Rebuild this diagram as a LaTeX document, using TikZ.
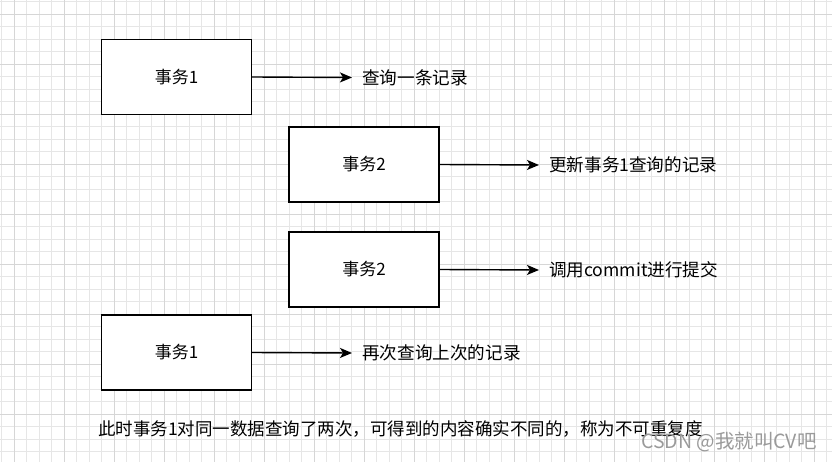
\documentclass[tikz,border=0pt]{standalone}
\usepackage{fontspec}
\newfontfamily\cjk{Noto Sans CJK SC}
\definecolor{gridline}{HTML}{E6E6E6}
\definecolor{gridmajor}{HTML}{D6D6D6}
\definecolor{mark}{HTML}{9A9A9A}
\usetikzlibrary{arrows.meta, positioning}

\begin{document}
\begin{tikzpicture}[
    x=1pt, y=-1pt,
    box/.style={draw, line width=1.4pt, fill=white, minimum width=150pt, minimum height=75pt, font=\cjk\fontsize{17}{20}\selectfont},
    arr/.style={-{Stealth[length=12pt, width=10pt, inset=3pt]}, line width=1.4pt},
    lbl/.style={anchor=west, inner xsep=10pt, inner ysep=0pt, font=\cjk\fontsize{17.6}{20}\selectfont},
  ]
  \useasboundingbox (0,0) rectangle (832,462);
  \fill[white] (0,0) rectangle (832,462);
  % background grid
  \foreach \k in {0,...,66} \draw[gridline, line width=0.8pt] ({1.5+12.5*\k},0) -- ({1.5+12.5*\k},462);
  \foreach \k in {0,...,36} \draw[gridline, line width=0.8pt] (0,{1.5+12.5*\k}) -- (832,{1.5+12.5*\k});
  \foreach \k in {0,...,16} \draw[gridmajor, line width=0.8pt] ({14+50*\k},0) -- ({14+50*\k},462);
  \foreach \k in {0,...,9} \draw[gridmajor, line width=0.8pt] (0,{14+50*\k}) -- (832,{14+50*\k});

  \node[box] (t1a) at (176.5,77) {事务1};
  \node[box] (t2a) at (364,164.5) {事务2};
  \node[box] (t2b) at (364,269.5) {事务2};
  \node[box] (t1b) at (176.5,352.5) {事务1};

  \node[lbl] (q1) at (352,77.5) {查询一条记录};
  \node[lbl] (u2) at (539,165) {更新事务1查询的记录};
  \node[lbl] (c2) at (539,270) {调用commit进行提交};
  \node[lbl] (q2) at (352,353) {再次查询上次的记录};

  \draw[arr] (t1a.east) -- (q1.west);
  \draw[arr] (t2a.east) -- (u2.west);
  \draw[arr] (t2b.east) -- (c2.west);
  \draw[arr] (t1b.east) -- (q2.west);

  \node[lbl, inner xsep=0pt, font=\cjk\fontsize{17.5}{20}\selectfont] (note) at (98,429) {此时事务1对同一数据查询了两次，可得到的内容确实不同的，称为不可重复度};
  \node[lbl, inner xsep=0pt, text=mark, font=\cjk\fontsize{19.5}{22}\selectfont] (wm) at (641,442) {CSDN @我就叫CV吧};
\end{tikzpicture}
\end{document}
